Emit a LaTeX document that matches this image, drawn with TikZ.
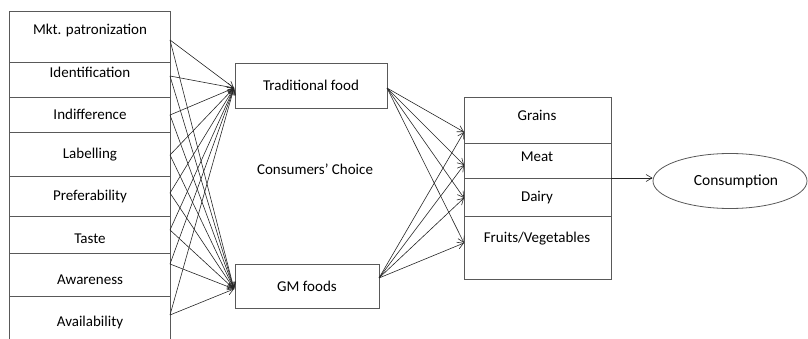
\documentclass[tikz,border=0pt]{standalone}
\usepackage{fontspec}
\setmainfont{Carlito}
\usetikzlibrary{arrows.meta,shapes.geometric}
\begin{document}
\begin{tikzpicture}[x=1pt,y=-1pt,
  lbl/.style={font=\fontsize{15}{18}\selectfont, text=black, inner sep=0pt},
  boxline/.style={draw=black!65, line width=0.8pt},
  conn/.style={draw=black!85, line width=0.6pt, -{Straight Barb[length=6pt,width=7pt]}},
  foodbox/.style={boxline, rectangle, inner sep=0pt, font=\fontsize{15}{18}\selectfont, text=black}
]
\useasboundingbox (0,0) rectangle (808,339);
% left column
\draw[boxline] (9,339) -- (9,11) -- (170,11) -- (170,339);
\foreach \yy in {62,97,132,176,216,253,296} \draw[boxline] (9,\yy) -- (170,\yy);
\node[lbl] (l1) at (90,31) {Mkt. patronization};
\node[lbl] (l2) at (90,72) {Identification};
\node[lbl] (l3) at (90,114) {Indifference};
\node[lbl] (l4) at (90,155) {Labelling};
\node[lbl] (l5) at (90,197) {Preferability};
\node[lbl] (l6) at (90,239) {Taste};
\node[lbl] (l7) at (90,280) {Awareness};
\node[lbl] (l8) at (90,322) {Availability};
\coordinate (o1) at (170,40);
\coordinate (o2) at (170,76);
\coordinate (o3) at (170,115);
\coordinate (o4) at (170,155);
\coordinate (o5) at (170,193);
\coordinate (o6) at (170,230);
\coordinate (o7) at (170,264);
\coordinate (o8) at (170,315);
% middle boxes
\node[foodbox, minimum width=152pt, minimum height=45pt] (trad) at (311,85.5) {Traditional food};
\node[foodbox, minimum width=144pt, minimum height=44pt] (gm) at (307,286) {GM foods};
\node[lbl] (cc) at (315,169) {Consumers’ Choice};
\coordinate (tA) at (234,88);
\coordinate (gA) at (234,289);
\coordinate (tR) at (387,88);
\coordinate (gR) at (379,278);
\foreach \i in {1,...,8} {
  \draw[conn] (o\i) -- (tA);
  \draw[conn] (o\i) -- (gA);
}
% right column
\draw[boxline] (464,97) rectangle (611,279);
\draw[boxline] (464,143) -- (611,143);
\draw[boxline] (464,216) -- (611,216);
\coordinate (mdL) at (464,178);
\coordinate (mdR) at (611,178);
\draw[boxline] (mdL) -- (mdR);
\node[lbl] (g1) at (537,115) {Grains};
\node[lbl] (g2) at (537,157) {Meat};
\node[lbl] (g3) at (537,198) {Dairy};
\node[lbl] (g4) at (537,239) {Fruits/Vegetables};
\coordinate (r1) at (464,132);
\coordinate (r2) at (464,165);
\coordinate (r3) at (464,198);
\coordinate (r4) at (464,243);
\foreach \i in {1,...,4} {
  \draw[conn] (tR) -- (r\i);
  \draw[conn] (gR) -- (r\i);
}
% consumption
\node[ellipse, draw=black!65, line width=0.8pt, minimum width=154pt, minimum height=55pt, inner sep=0pt, font=\fontsize{15.5}{18}\selectfont, text=black] (cons) at (730,181) {\hspace{12pt}Consumption};
\draw[conn] (mdR) -- (mdR -| cons.west);
\end{tikzpicture}
\end{document}
